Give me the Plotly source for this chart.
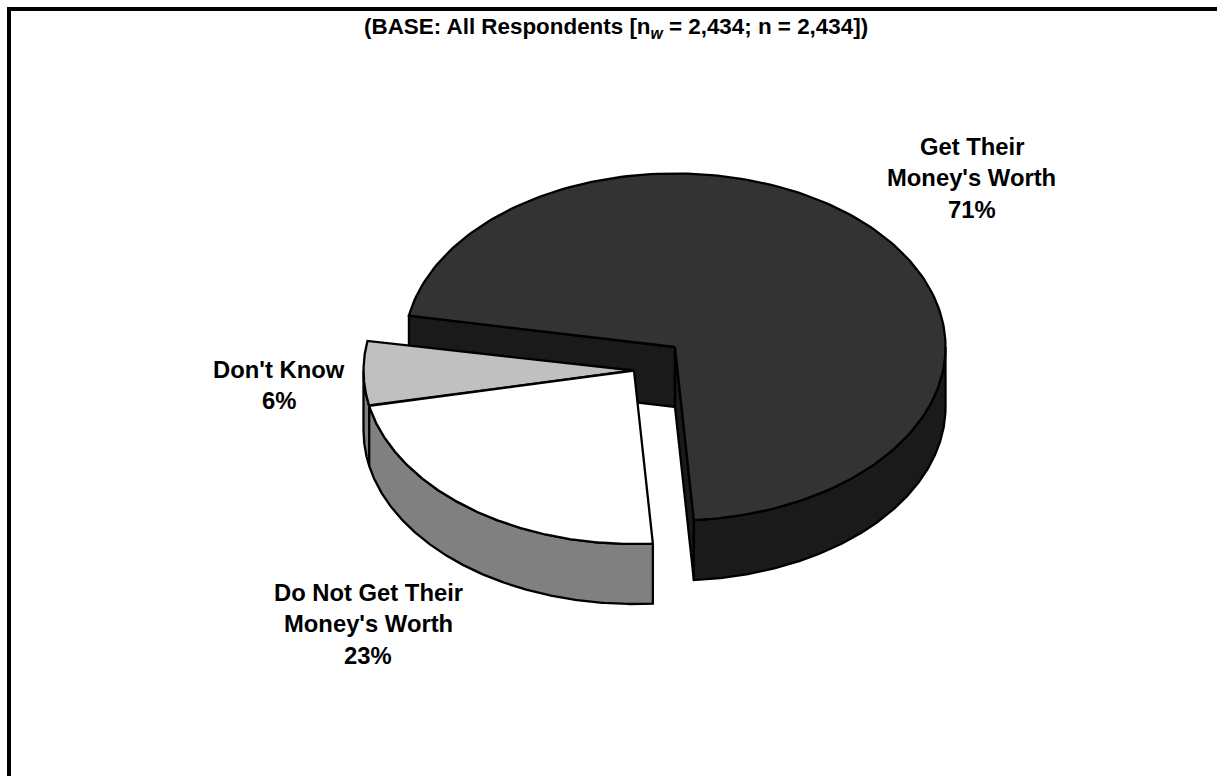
import numpy as np
import plotly.graph_objects as go

label_lines = [["Get Their", "Money's Worth", "71%"],
               ["Do Not Get Their", "Money's Worth", "23%"],
               ["Don't Know", "6%"]]
values = [71, 23, 6]
top_colors = ["#333333", "#ffffff", "#c0c0c0"]
side_colors = ["#1a1a1a", "#808080", "#808080"]
title = "(BASE: All Respondents [n<sub><i>w</i></sub> = 2,434; n = 2,434])"

RX, RY, DEPTH = 270.5, 173.5, 60
CENTERS = [(675, 347), (634, 370.5), (634, 370.5)]
START = 86
LW = 2.3

a = START + 360
edges = [(a - values[0] * 3.6, a)]
b = START
edges.append((b, b + values[1] * 3.6 - 0.6))
edges.append((edges[1][1], edges[1][1] + values[2] * 3.6))

def arc(c, t0, t1, dy=0, n=200):
    t = np.radians(np.linspace(t0, t1, n))
    return c[0] + RX * np.cos(t), c[1] + dy + RY * np.sin(t)

fig = go.Figure()

def poly(x, y, color):
    fig.add_trace(go.Scatter(x=list(x) + [x[0]], y=list(y) + [y[0]], mode="lines", fill="toself",
                             fillcolor=color, line=dict(color="#000000", width=LW),
                             hoverinfo="skip", showlegend=False))

def outer_wall(c, t0, t1, color):
    x, y = arc(c, t0, t1)
    x2, y2 = arc(c, t0, t1, DEPTH)
    poly(np.r_[x, x2[::-1]], np.r_[y, y2[::-1]], color)

def radial_wall(c, t, color):
    x, y = arc(c, t, t, n=1)
    poly([c[0], x[0], x[0], c[0]], [c[1], y[0], y[0] + DEPTH, c[1] + DEPTH], color)

def top(c, t0, t1, color):
    x, y = arc(c, t0, t1)
    poly(np.r_[c[0], x], np.r_[c[1], y], color)

c = CENTERS[0]
t0, t1 = edges[0]
radial_wall(c, t0, side_colors[0])
radial_wall(c, t1, side_colors[0])
outer_wall(c, 360, t1, side_colors[0])
top(c, t0, t1, top_colors[0])

c = CENTERS[1]
outer_wall(c, edges[2][0], 180, side_colors[2])
outer_wall(c, *edges[1], side_colors[1])
top(c, *edges[2], top_colors[2])
top(c, *edges[1], top_colors[1])

FONT = "Liberation Sans, Arial, sans-serif"
LABEL_X = [971.5, 368, 279]
LABEL_Y0 = [146, 592, 369]
LINE_GAP = 31.5
for lines, x, y0 in zip(label_lines, LABEL_X, LABEL_Y0):
    for i, line in enumerate(lines):
        fig.add_annotation(x=x, y=y0 + i * LINE_GAP, text="<b>" + line + "</b>", showarrow=False,
                           xanchor="center", yanchor="middle",
                           font=dict(family=FONT, size=23.8, color="#000000"))

fig.add_annotation(x=615.5, y=28, text="<b>" + title + "</b>", showarrow=False, xanchor="center", yanchor="middle",
                   font=dict(family=FONT, size=22.4, color="#000000"))

fig.update_layout(
    width=1217, height=776, margin=dict(l=0, r=0, t=0, b=0),
    paper_bgcolor="#ffffff", plot_bgcolor="#ffffff", showlegend=False,
    xaxis=dict(range=[0, 1217], visible=False, fixedrange=True),
    yaxis=dict(range=[776, 0], visible=False, fixedrange=True),
    shapes=[dict(type="path", xref="x", yref="y", path="M 9 790 L 9 9 L 1230 9",
                 line=dict(color="#000000", width=4))],
)
fig.write_html("out.html", config={"displayModeBar": False},
               post_script="document.body.style.margin='0';document.body.style.overflow='hidden';")
